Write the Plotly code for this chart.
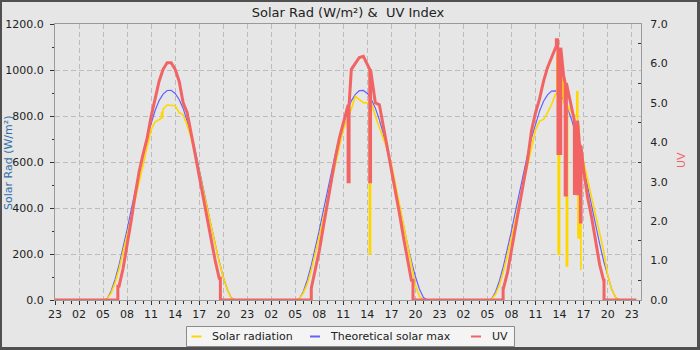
import plotly.graph_objects as go
from datetime import datetime, timedelta

# ---------------- data ----------------
SERIES_START = datetime(2024, 6, 1, 23, 0)
SERIES_END = datetime(2024, 6, 4, 23, 35)
AXIS_END = datetime(2024, 6, 5, 0, 10)
DAY_DATES = [datetime(2024, 6, 2), datetime(2024, 6, 3), datetime(2024, 6, 4)]

SUN_HOURS = [5.0, 5.5, 6.0, 6.5, 7.0, 7.5, 8.0, 8.5, 9.0, 9.5, 10.0, 10.5, 11.0, 11.5,
             12.0, 12.5, 13.0, 13.5, 14.0, 14.5, 15.0, 15.5, 16.0, 16.5, 17.0, 17.5,
             18.0, 18.5, 19.0, 19.5, 20.0, 20.5, 21.0, 21.5]

solar_day1 = [0, 5, 30, 75, 135, 205, 280, 355, 435, 515, 590, 665, 740, 775, 785, 830, 848,
              848, 845, 815, 805, 760, 705, 635, 560, 480, 400, 320, 240, 165, 100, 45, 8, 0]
solar_day2 = [0, 5, 30, 70, 130, 200, 275, 355, 435, 515, 590, 665, 740, 785, 830, 885, 870,
              858, 856, 856, 800, 745, 700, 655, 590, 505, 420, 330, 240, 150, 65, 15, 0, 0]
solar_day3 = [0, 3, 25, 65, 125, 195, 270, 350, 430, 510, 595, 675, 740, 778, 785, 815, 850,
              895, 885, 860, 840, 815, 800, 640, 600, 520, 440, 370, 280, 215, 110, 45, 10, 0]

theoretical_day1 = [0, 5, 38, 89, 153, 226, 306, 390, 475, 557, 635, 708, 772, 824, 867, 895, 911,
                    912, 898, 872, 833, 782, 721, 650, 572, 491, 406, 322, 243, 168, 101, 47, 10, 0]
theoretical_day2 = [0, 4, 36, 87, 151, 224, 304, 388, 473, 556, 634, 707, 771, 823, 866, 894, 910,
                    911, 898, 872, 834, 783, 722, 651, 573, 492, 407, 323, 244, 169, 102, 48, 11, 0]
theoretical_day3 = [0, 4, 35, 85, 149, 222, 302, 386, 471, 554, 632, 705, 769, 821, 864, 892, 908,
                    909, 897, 872, 834, 784, 723, 652, 574, 493, 408, 324, 245, 170, 103, 48, 11, 0]

UV_HOURS = [7.0, 7.5, 8.0, 8.5, 9.0, 9.5, 10.0, 10.5, 11.0, 11.5, 12.0, 12.5, 13.0,
            13.5, 14.0, 14.5, 15.0, 15.5, 16.0, 16.5, 17.0, 17.5, 18.0, 18.5, 19.0, 19.5]
uv_day1 = [0.35, 0.8, 1.35, 2.0, 2.65, 3.25, 3.7, 4.1, 4.65, 5.1, 5.55, 5.85, 6.02,
           6.02, 5.85, 5.55, 5.0, 4.75, 4.25, 3.7, 3.15, 2.6, 2.05, 1.5, 1.0, 0.55]
uv_day2 = [0.3, 0.75, 1.25, 1.85, 2.45, 3.05, 3.6, 4.1, 4.5, 4.9, 5.85, 6.0, 6.15,
           6.18, 5.95, 5.7, 5.0, 4.95, 4.4, 3.85, 3.4, 2.8, 2.2, 1.6, 1.0, 0.5]
uv_day3 = [0.3, 0.7, 1.25, 1.85, 2.4, 3.0, 3.55, 4.3, 4.75, 5.1, 5.55, 5.9, 6.15,
           6.45, 6.3, 5.7, 5.35, 4.9, 4.5, 3.9, 3.3, 2.6, 2.1, 1.5, 0.9, 0.5]
uv_on = [6.85, 7.0, 6.95]
uv_off = [19.65, 19.7, 19.55]

# short excursions: (day index, hour, duration h, level before/after, spike level)
solar_spikes = [
    (0, 12.3, 0.12, 790, 815),
    (1, 14.25, 0.15, 856, 200),
    (2, 13.65, 0.15, 895, 1065),
    (2, 13.82, 0.18, 890, 196),
    (2, 14.3, 0.12, 880, 1007),
    (2, 14.85, 0.15, 845, 145),
    (2, 16.15, 0.12, 795, 905),
    (2, 16.3, 0.15, 760, 270),
    (2, 16.65, 0.06, 650, 130),
]
uv_spikes = [
    (1, 11.6, 0.12, 4.95, 3.0),
    (1, 14.3, 0.1, 5.85, 3.0),
    (2, 13.6, 0.15, 6.45, 6.6),
    (2, 13.8, 0.35, 6.4, 3.68),
    (2, 14.7, 0.15, 5.5, 2.66),
    (2, 15.85, 0.4, 4.55, 2.66),
    (2, 16.6, 0.08, 3.9, 1.98),
]

LEGEND_NAMES = ['Solar radiation', 'Theoretical solar max', 'UV']

YELLOW = '#ffd700'
BLUE = '#6262ff'
RED = '#f26464'
COLORS = [YELLOW, BLUE, RED]


def ts(day, hour):
    return DAY_DATES[day] + timedelta(hours=hour)


def day_points(day, hours, values, spikes):
    pts = [(h, 0, v) for h, v in zip(hours, values)]
    for d, t, w, base, lvl in spikes:
        if d != day:
            continue
        pts += [(t, 0, base), (t, 1, lvl), (t + w, 2, lvl), (t + w, 3, base)]
    pts.sort(key=lambda p: (p[0], p[1]))
    return [ts(day, p[0]) for p in pts], [p[2] for p in pts]


def sun_series(day_lists, spikes):
    xs, ys = [], []
    for d, vals in enumerate(day_lists):
        x, y = day_points(d, SUN_HOURS, vals, spikes)
        xs += x + [None]
        ys += y + [None]
    return xs, ys


sx, sy = sun_series([solar_day1, solar_day2, solar_day3], solar_spikes)
tx, ty = sun_series([theoretical_day1, theoretical_day2, theoretical_day3], [])

ux, uy = [SERIES_START], [0]
for d, vals in enumerate([uv_day1, uv_day2, uv_day3]):
    x, y = day_points(d, UV_HOURS, vals, uv_spikes)
    ux += [ts(d, uv_on[d]), ts(d, uv_on[d])] + x + [ts(d, uv_off[d]), ts(d, uv_off[d])]
    uy += [0, vals[0]] + y + [vals[-1], 0]
ux.append(SERIES_END)
uy.append(0)

fig = go.Figure()
fig.add_trace(go.Scatter(x=ux, y=uy, yaxis='y2', mode='lines', name=LEGEND_NAMES[2],
                         showlegend=False, line=dict(color=RED, width=3)))
fig.add_trace(go.Scatter(x=tx, y=ty, mode='lines', name=LEGEND_NAMES[1],
                         showlegend=False, line=dict(color=BLUE, width=1.2)))
fig.add_trace(go.Scatter(x=sx, y=sy, mode='lines', name=LEGEND_NAMES[0],
                         showlegend=False, line=dict(color=YELLOW, width=1.6)))

FONT = 'DejaVu Sans'
L, R, T, B = 55, 59, 24, 50
PW, PH = 700 - L - R, 350 - T - B


def px(x):
    return (x - L) / PW


def py(y):
    return (300 - y) / PH


tickfont = dict(family=FONT, size=11, color='#222')

shapes = [dict(type='rect', xref='paper', yref='paper', layer='below',
               x0=px(2), x1=px(697), y0=py(347), y1=py(2),
               fillcolor='#e6e6e6', line=dict(width=0)),
          # legend box
          dict(type='rect', xref='paper', yref='paper', layer='above',
               x0=px(186.5), x1=px(514.5), y0=py(346.5), y1=py(326.5),
               fillcolor='#f4f4f4', line=dict(color='#8a8a8a', width=1))]

annotations = [
    dict(text='Solar Rad (W/m²)', textangle=-90, xref='paper', yref='paper',
         x=px(8.5), y=py(163.5), xanchor='center', yanchor='middle',
         showarrow=False, font=dict(family=FONT, size=11, color='#2f70a8')),
    dict(text='UV', textangle=-90, xref='paper', yref='paper',
         x=px(681), y=py(160), xanchor='center', yanchor='middle',
         showarrow=False, font=dict(family=FONT, size=11, color=RED)),
]

sym_x = [191.5, 310, 471]
txt_x = [211.5, 330, 491.5]
for name, col, sxp, txp in zip(LEGEND_NAMES, COLORS, sym_x, txt_x):
    shapes.append(dict(type='line', xref='paper', yref='paper', layer='above',
                       x0=px(sxp), x1=px(sxp + 10), y0=py(336.5), y1=py(336.5),
                       line=dict(color=col, width=2)))
    annotations.append(dict(text=name, xref='paper', yref='paper', x=px(txp - 2), y=py(336.5),
                            xanchor='left', yanchor='middle', showarrow=False,
                            font=dict(family=FONT, size=11, color='#222')))

fig.update_layout(
    width=700, height=350,
    margin=dict(l=L, r=R, t=T, b=B, pad=0, autoexpand=False),
    paper_bgcolor='#505050',
    plot_bgcolor='#e6e6e6',
    font=dict(family=FONT, size=11, color='#222'),
    title=dict(text='Solar Rad (W/m²) & \u00a0UV Index', x=0.5, xref='paper', xanchor='center',
               y=1 - 12 / 350, yref='container', yanchor='middle',
               font=dict(family=FONT, size=13, color='#222')),
    showlegend=False,
    xaxis=dict(type='date', range=[SERIES_START, AXIS_END], automargin=False,
               tick0=SERIES_START, dtick=3 * 3600 * 1000, tickformat='%H',
               ticks='outside', ticklen=4, tickcolor='#333', tickfont=tickfont,
               showgrid=True, gridcolor='#bcbcbc', griddash='5px,3px', gridwidth=1,
               minor=dict(dtick=3600 * 1000, tick0=SERIES_START, ticks='outside', ticklen=3,
                          tickcolor='#333', showgrid=False),
               showline=True, linecolor='#9a9a9a', linewidth=1, mirror=True,
               zeroline=False, fixedrange=True),
    yaxis=dict(range=[0, 1200], dtick=200, tickformat='.1f', automargin=False,
               ticks='outside', ticklen=4, tickcolor='#333', tickfont=tickfont,
               ticklabelstandoff=4,
               minor=dict(dtick=100, ticks='outside', ticklen=2, tickcolor='#333', showgrid=False),
               showgrid=True, gridcolor='#bcbcbc', griddash='5px,3px', gridwidth=1,
               showline=True, linecolor='#9a9a9a', linewidth=1,
               zeroline=False),
    yaxis2=dict(range=[0, 7], dtick=1, tickformat='.1f', overlaying='y', side='right',
                automargin=False,
                ticks='', tickfont=tickfont, ticklabelstandoff=6,
                minor=dict(dtick=0.5, ticks='inside', ticklen=3, tickcolor='#333', showgrid=False),
                showgrid=False, showline=True, linecolor='#9a9a9a', linewidth=1,
                zeroline=False),
    shapes=shapes,
    annotations=annotations,
)

fig.write_html('out.html')
